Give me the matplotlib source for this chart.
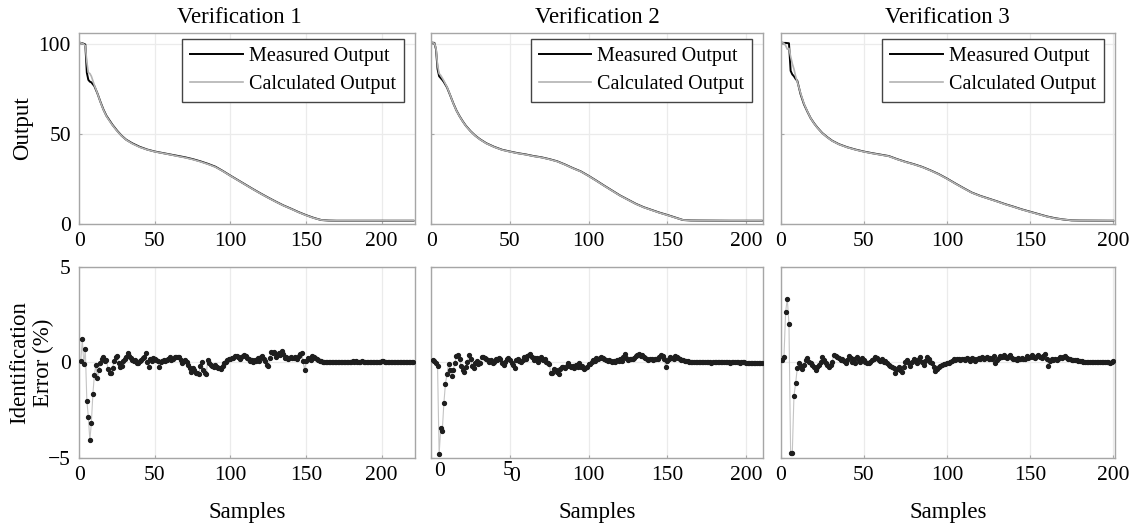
import numpy as np
import matplotlib
matplotlib.use("Agg")
import matplotlib.pyplot as plt

plt.rcParams['font.family'] = ['Liberation Serif', 'DejaVu Serif']

titles = ["Verification 1", "Verification 2", "Verification 3"]
legend_labels = ["Measured Output", "Calculated Output"]
xlims = [222, 211, 201]

# ---- top row: output curves (sample, value) ----
v1_x = [1, 2, 3, 4, 5, 6, 7, 8, 10, 12, 14, 16, 18, 20, 22, 25, 28, 31, 35, 40, 45, 50, 55, 60, 65,
        70, 75, 80, 85, 90, 95, 100, 105, 110, 115, 120, 125, 130, 135, 140, 145, 150, 155, 160,
        165, 170, 180, 190, 200, 210, 221]
v1_meas = [100.5, 100.3, 100.0, 99.6, 84.0, 80.0, 79.0, 78.6, 76.5, 72.5, 67.8, 63.5, 60.0, 57.5,
           55.0, 51.8, 49.0, 46.8, 44.8, 42.8, 41.3, 40.2, 39.4, 38.6, 37.8, 37.0, 36.0, 34.8, 33.4,
           31.8, 29.4, 26.8, 24.3, 21.8, 19.3, 16.9, 14.6, 12.4, 10.3, 8.5, 6.6, 4.9, 3.4, 2.2, 1.9,
           1.8, 1.8, 1.8, 1.8, 1.8, 1.8]
v1_calc = [100.5, 100.2, 99.8, 99.0, 90.0, 84.0, 83.5, 82.0, 77.0, 72.5, 67.6, 63.3, 59.8, 57.2,
           54.8, 51.6, 48.9, 46.7, 44.6, 42.6, 41.2, 40.1, 39.3, 38.5, 37.6, 36.8, 35.8, 34.6, 33.2,
           31.6, 29.3, 26.7, 24.2, 21.7, 19.2, 16.8, 14.5, 12.3, 10.2, 8.4, 6.5, 4.8, 3.3, 2.2, 1.9,
           1.8, 1.8, 1.8, 1.8, 1.8, 1.8]

v2_x = [1, 2, 3, 4, 5, 6, 7, 8, 10, 12, 14, 16, 18, 20, 22, 25, 28, 31, 35, 40, 45, 50, 55, 60, 65,
        70, 75, 80, 85, 90, 95, 100, 105, 110, 115, 120, 125, 130, 135, 140, 145, 150, 155, 160,
        165, 170, 180, 190, 200, 210]
v2_meas = [100.6, 100.5, 97.0, 86.0, 82.0, 81.0, 80.0, 78.8, 75.8, 71.5, 67.0, 63.0, 59.8, 57.0,
           54.5, 51.5, 49.0, 47.0, 44.8, 42.8, 41.2, 40.2, 39.3, 38.6, 37.7, 37.0, 36.0, 34.8, 33.0,
           31.0, 29.2, 26.7, 24.0, 21.2, 18.5, 15.8, 13.5, 11.2, 9.3, 7.8, 6.3, 5.0, 3.6, 2.2, 1.95,
           1.9, 1.85, 1.8, 1.8, 1.8]
v2_calc = [100.6, 100.3, 97.5, 88.0, 83.5, 82.5, 81.0, 79.5, 76.0, 71.6, 66.9, 62.9, 59.7, 56.9,
           54.4, 51.4, 48.9, 46.9, 44.7, 42.7, 41.1, 40.1, 39.2, 38.5, 37.6, 36.9, 35.9, 34.7, 32.9,
           30.9, 29.1, 26.6, 23.9, 21.1, 18.4, 15.7, 13.4, 11.1, 9.2, 7.7, 6.2, 4.9, 3.5, 2.2, 1.95,
           1.9, 1.85, 1.8, 1.8, 1.8]

v3_x = [1, 2, 3, 4, 5, 6, 7, 8, 9, 10, 12, 14, 16, 18, 20, 22, 25, 28, 31, 35, 40, 45, 50, 55, 60,
        65, 70, 75, 80, 85, 90, 95, 100, 105, 110, 115, 120, 125, 130, 135, 140, 145, 150, 155, 160,
        165, 170, 175, 180, 190, 200]
v3_meas = [100.6, 100.5, 100.5, 100.4, 100.3, 85.0, 83.0, 82.0, 80.5, 79.5, 72.0, 66.5, 62.5, 58.8,
           56.0, 53.6, 50.5, 48.2, 46.2, 44.3, 42.6, 41.3, 40.2, 39.3, 38.5, 37.7, 36.0, 34.5, 33.2,
           31.7, 29.8, 27.7, 25.2, 22.5, 19.9, 17.4, 15.6, 14.1, 12.6, 11.0, 9.6, 8.1, 6.8, 5.5, 4.2,
           3.2, 2.5, 2.0, 1.9, 1.85, 1.8]
v3_calc = [100.6, 100.3, 99.0, 97.0, 97.5, 93.0, 89.0, 86.0, 82.0, 79.0, 72.5, 66.8, 62.6, 58.8,
           55.9, 53.5, 50.4, 48.1, 46.1, 44.2, 42.5, 41.2, 40.1, 39.2, 38.4, 37.6, 35.9, 34.4, 33.1,
           31.6, 29.7, 27.6, 25.1, 22.4, 19.8, 17.3, 15.5, 14.0, 12.5, 10.9, 9.5, 8.0, 6.7, 5.4, 4.1,
           3.1, 2.5, 2.0, 1.9, 1.85, 1.8]

# ---- bottom row: identification error (%) per sample, starting at sample 1 ----
err1 = [0.07, 1.20, -0.09, 0.68, -2.00, -2.85, -4.08, -3.16, -1.66, -0.66,
        -0.12, -0.84, -0.40, -0.05, 0.15, 0.30, 0.05, 0.12, -0.35, -0.55,
        -0.58, -0.30, 0.05, 0.26, 0.32, -0.05, -0.25, -0.18, 0.07, 0.20,
        0.28, 0.47, 0.33, 0.25, 0.10, 0.05, 0.12, -0.05, -0.05, 0.07,
        0.12, 0.25, 0.30, 0.50, 0.00, -0.26, 0.15, 0.05, 0.25, 0.20,
        0.12, 0.05, -0.25, 0.00, 0.05, 0.12, 0.05, 0.10, 0.15, 0.30,
        0.12, 0.20, 0.28, 0.30, 0.30, 0.30, 0.12, -0.05, 0.05, 0.12,
        0.03, -0.15, -0.28, -0.50, -0.32, -0.40, -0.58, -0.58, -0.62, -0.20,
        0.03, -0.40, -0.55, -0.62, 0.12, -0.02, -0.15, -0.18, -0.25, -0.12,
        -0.22, -0.30, -0.30, -0.35, -0.20, -0.05, 0.02, 0.10, 0.15, 0.18,
        0.22, 0.25, 0.32, 0.34, 0.30, 0.20, 0.28, 0.35, 0.38, 0.32,
        0.25, 0.15, 0.05, 0.10, 0.00, 0.10, 0.05, 0.25, 0.05, 0.30,
        0.35, 0.15, 0.05, -0.15, -0.18, 0.25, 0.55, 0.50, 0.55, 0.30,
        0.40, 0.50, 0.40, 0.60, 0.45, 0.25, 0.30, 0.15, 0.25, 0.30,
        0.22, 0.25, 0.30, 0.20, 0.35, 0.45, 0.50, 0.05, -0.40, 0.05,
        0.25, 0.15, 0.10, 0.35, 0.30, 0.25, 0.18, 0.12, 0.08, 0.05,
        0.03, 0.02, 0.03, 0.02, 0.01, 0.02, 0.03, 0.02, 0.01, 0.02,
        0.03, 0.02, 0.02, 0.01, 0.02, 0.03, 0.04, 0.03, 0.02, 0.03,
        0.05, 0.04, 0.05, 0.04, 0.03, 0.04, 0.05, 0.03, 0.02, 0.03,
        0.02, 0.01, 0.02, 0.03, 0.02, 0.01, 0.02, 0.03, 0.04, 0.05,
        0.06, 0.04, 0.03, 0.02, 0.01, 0.02, 0.01, 0.00, 0.01, 0.02,
        0.01, 0.00, 0.01, 0.02, 0.01, 0.00, 0.01, 0.02, 0.01, 0.00, 0.01]

err2 = [0.12, 0.07, -0.05, -0.20, -4.80, -3.45, -3.60, -2.15, -1.13, -0.61,
        -0.09, -0.40, -0.70, -0.40, -0.02, 0.33, 0.37, 0.16, -0.20, -0.40,
        -0.50, -0.26, 0.03, 0.38, 0.20, -0.20, -0.30, -0.05, 0.08, -0.08,
        -0.02, 0.26, 0.26, 0.21, 0.16, 0.12, 0.03, 0.12, -0.05, 0.03,
        0.16, 0.12, 0.21, 0.17, -0.05, -0.14, 0.03, 0.16, 0.21, 0.12,
        -0.05, -0.14, -0.31, 0.12, 0.16, 0.09, 0.03, 0.12, 0.26, 0.16,
        0.33, 0.38, 0.44, 0.30, 0.12, 0.24, 0.21, 0.03, 0.19, 0.30,
        0.12, 0.16, 0.03, -0.05, -0.09, -0.58, -0.54, -0.37, -0.40, -0.49,
        -0.61, -0.37, -0.26, -0.26, -0.31, -0.19, -0.05, -0.19, -0.26, -0.19,
        -0.31, -0.14, -0.23, -0.05, -0.26, -0.19, -0.37, -0.31, -0.23, -0.09,
        -0.09, 0.03, 0.12, 0.07, 0.21, 0.18, 0.25, 0.30, 0.22, 0.15,
        0.10, 0.05, 0.12, 0.08, 0.02, 0.06, 0.00, 0.10, 0.05, 0.15, 0.08,
        0.30, 0.42, 0.25, 0.10, 0.15, 0.20, 0.18, 0.25,
        0.35, 0.40, 0.45, 0.35, 0.38, 0.28, 0.22,
        0.15, 0.12, 0.18, 0.15, 0.10, 0.20, 0.15, 0.18,
        0.30, 0.40, 0.35, 0.20,
        -0.25, 0.05,
        0.20, 0.30, 0.25, 0.15, 0.35, 0.30, 0.22, 0.15, 0.12, 0.10,
        0.08, 0.06, 0.05, 0.04, 0.03, 0.02, 0.02, 0.01, 0.01, 0.02,
        0.01, 0.00, 0.01, 0.02, 0.01, 0.01, 0.00, -0.01, 0.00, 0.01,
        0.02, 0.01, 0.00, 0.01, 0.02, 0.03, 0.02, 0.01, 0.00, -0.01,
        0.00, 0.01, 0.02, 0.01, 0.00, -0.01, 0.00, 0.01, 0.00, -0.02,
        -0.03, -0.02, -0.01, -0.03, -0.04, -0.03, -0.05, -0.04, -0.06, -0.05]

err3 = [0.12, 0.30, 2.65, 3.32, 2.00, -4.76, -4.76, -1.75, -1.10, -0.31,
        -0.02, -0.20, -0.37, -0.14, 0.12, 0.24, 0.03, -0.02, -0.14, -0.26,
        -0.40, -0.26, -0.14, 0.03, 0.26, 0.12, -0.05, -0.14, -0.26, -0.14,
        0.03, 0.38, 0.33, 0.26, 0.21, 0.12, 0.16, 0.07, -0.02, 0.12,
        0.33, 0.21, 0.03, 0.16, -0.02, 0.26, 0.12, 0.03, 0.21, 0.12,
        0.03, -0.02, -0.05, 0.03, 0.12, 0.16, 0.26, 0.21, 0.12, 0.09,
        0.16, 0.03, 0.09, -0.02, -0.14, -0.19, -0.26, -0.31, -0.58, -0.37,
        -0.26, -0.40, -0.49, -0.26, 0.03, 0.12, -0.02, -0.19, 0.03, 0.16,
        0.12, -0.02, 0.17, 0.26, 0.03, -0.14, 0.09, 0.26, 0.16, 0.03,
        -0.02, -0.26, -0.44, -0.37, -0.26, -0.19, -0.14, -0.09, -0.09, -0.05,
        -0.03, 0.00, 0.08, 0.15, 0.12, 0.20, 0.15, 0.10, 0.18, 0.20,
        0.12, 0.25, 0.18, 0.08, 0.22, 0.15, 0.05, 0.18, 0.25, 0.20,
        0.28, 0.15, 0.22, 0.30, 0.18, 0.25, 0.20, 0.32, -0.05, 0.10,
        0.25, 0.35, 0.28, 0.40, 0.30, 0.22, 0.32, 0.38, 0.25, 0.15,
        0.20, 0.12, 0.25, 0.18, 0.22, 0.15, 0.20, 0.35, 0.25, 0.30,
        0.38, 0.28, 0.22, 0.32, 0.40, 0.30, 0.25, 0.35, 0.45, 0.20,
        -0.20, 0.05, 0.15, 0.10, 0.15, 0.12, 0.20, 0.28, 0.25, 0.30,
        0.32, 0.25, 0.20, 0.15, 0.13, 0.12, 0.12, 0.10, 0.08, 0.06,
        0.05, 0.04, 0.03, 0.02, 0.02, 0.01, 0.02, 0.02, 0.03, 0.03,
        0.04, 0.03, 0.02, 0.02, 0.01, 0.00, 0.01, -0.01, 0.02, 0.05]

top_x = [v1_x, v2_x, v3_x]
top_meas = [v1_meas, v2_meas, v3_meas]
top_calc = [v1_calc, v2_calc, v3_calc]
errors = [err1, err2, err3]

SPINE = '#a6a6a6'
GRID = '#ebebeb'
TICK_FS = 15.5
LABEL_FS = 16.5

fig = plt.figure(figsize=(11.34, 5.28), dpi=100)
lefts = [0.0699, 0.3803, 0.6884]
widths = [0.296, 0.2928, 0.2948]


def style_axes(ax):
    for s in ax.spines.values():
        s.set_color(SPINE)
        s.set_linewidth(1.0)
    ax.tick_params(direction='in', length=2.5, color=SPINE, labelsize=TICK_FS, pad=6)
    ax.grid(True, color=GRID, linewidth=0.9)
    ax.set_axisbelow(True)


for i in range(3):
    ax = fig.add_axes([lefts[i], 0.5758, widths[i], 0.3617])
    style_axes(ax)
    ax.plot(top_x[i], top_meas[i], color='black', lw=1.4, label=legend_labels[0])
    ax.plot(top_x[i], top_calc[i], color='#b3b3b3', lw=1.2, label=legend_labels[1])
    ax.set_xlim(0, xlims[i])
    ax.set_ylim(0, 106)
    ax.set_xticks([0, 50, 100, 150, 200])
    ax.set_yticks([0, 50, 100])
    if i > 0:
        ax.set_yticklabels([])
    else:
        ax.set_ylabel("Output", fontsize=LABEL_FS, labelpad=4)
    ax.set_title(titles[i], fontsize=LABEL_FS, pad=7, x=0.476 if i == 0 else 0.5)
    leg = ax.legend(loc='upper right', bbox_to_anchor=(0.967, 0.969), borderaxespad=0,
                    fontsize=14.5, frameon=True, fancybox=False, framealpha=1,
                    handlelength=2.6, handletextpad=0.3, labelspacing=0.45, borderpad=0.4)
    leg.get_frame().set_edgecolor('#444444')
    leg.get_frame().set_linewidth(1.0)

    axb = fig.add_axes([lefts[i], 0.1326, widths[i], 0.3623])
    style_axes(axb)
    e = errors[i]
    xs = np.arange(1, len(e) + 1)
    axb.plot(xs, e, color='#c4c4c4', lw=0.8, zorder=2)
    axb.plot(xs, e, ls='none', marker='o', ms=2.8, color='#1e1e1e', zorder=3)
    axb.set_xlim(0, xlims[i])
    axb.set_ylim(-5, 5)
    axb.set_xticks([0, 50, 100, 150, 200])
    axb.set_yticks([-5, 0, 5])
    if i > 0:
        axb.set_yticklabels([])
    else:
        axb.set_ylabel("Identification\nError (%)", fontsize=LABEL_FS, labelpad=-4,
                       linespacing=1.15)
    axb.set_xlabel("Samples", fontsize=LABEL_FS, labelpad=12)
    if i == 1:
        # misplaced tick labels as in the original figure
        axb.set_xticklabels(['', '', '100', '150', '200'])
        for xv, txt, dy in [(5.5, '0', -3.1), (49, '5', -2.4), (53.2, '0', -6.7)]:
            axb.annotate(txt, xy=(xv, 0), xycoords=('data', 'axes fraction'),
                         xytext=(0, dy), textcoords='offset points',
                         ha='center', va='top', fontsize=TICK_FS)

fig.savefig("out.png", dpi=100)
